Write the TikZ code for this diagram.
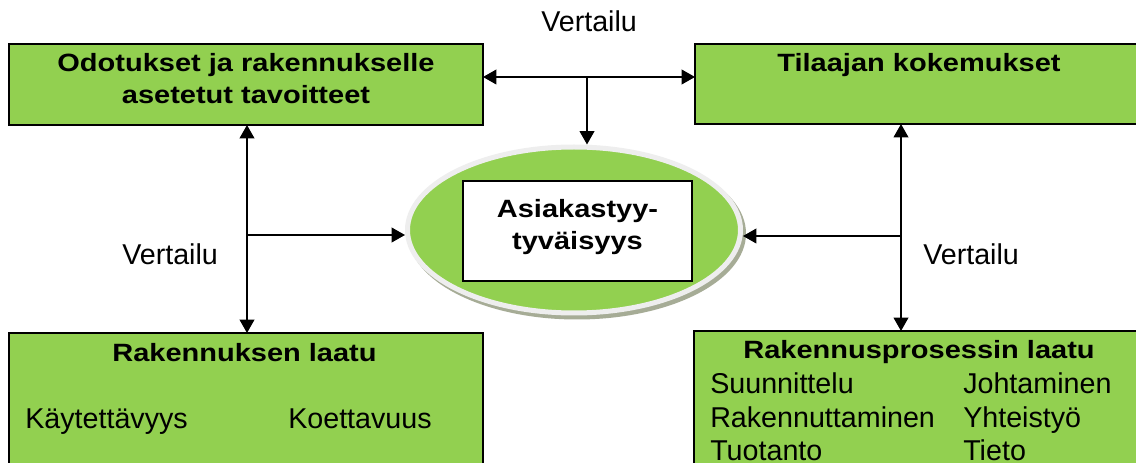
\documentclass[tikz,border=0pt]{standalone}
\usepackage{fontspec}
\setmainfont{Liberation Sans}
\newfontfamily\tfont{Liberation Sans}[FakeStretch=1.16]
\usetikzlibrary{arrows.meta,shapes.geometric}
\definecolor{boxgreen}{HTML}{92D050}
\definecolor{ringgray}{HTML}{EEEEEE}
\definecolor{shadowc}{RGB}{166,172,150}
\tikzset{
  greenbox/.style={draw=black, line width=1.7pt, fill=boxgreen, rectangle, inner sep=0pt, outer sep=0pt},
  whitebox/.style={draw=black, line width=1.5pt, fill=white, rectangle, inner sep=0pt, outer sep=0pt},
  ttext/.style={font=\tfont\bfseries\fontsize{18.75}{22}\selectfont, inner sep=0pt, anchor=base},
  rtext/.style={font=\fontsize{21.5}{25}\selectfont, inner sep=0pt, anchor=base west},
  arr/.style={line width=1.25pt, draw=black, arrows={-Triangle[length=10pt,width=11pt]}},
  darr/.style={line width=1.25pt, draw=black, arrows={Triangle[length=10pt,width=11pt]-Triangle[length=10pt,width=11pt]}}
}
\begin{document}
\begin{tikzpicture}[x=0.75pt,y=-0.75pt]
\useasboundingbox (0,0) rectangle (1136,463);
\clip (0,0) rectangle (1136,463);
\fill[white] (0,0) rectangle (1136,463);
% boxes
\node[greenbox, minimum width=355.5pt, minimum height=60.75pt] (tl) at (246,84.5) {};
\node[greenbox, minimum width=348.75pt, minimum height=60pt] (tr) at (927.5,84) {};
\node[greenbox, minimum width=355.5pt, minimum height=110.25pt] (bl) at (246,406.5) {};
\node[greenbox, minimum width=349.5pt, minimum height=111.75pt] (br) at (927,405.5) {};
% ellipse with shadow
\fill[shadowc] (577,233.5) ellipse [x radius=169, y radius=86];
\node[ellipse, draw=ringgray, line width=3.75pt, fill=boxgreen, minimum width=249.75pt, minimum height=124.5pt, inner sep=0pt] (ell) at (574,230) {};
\node[whitebox, minimum width=171.75pt, minimum height=75pt] (inner) at (577.5,231) {};
% texts
\node[ttext] (t1a) at (246,72) {Odotukset ja rakennukselle};
\node[ttext] (t1b) at (246,104) {asetetut tavoitteet};
\node[ttext] (t2) at (919,72) {Tilaajan kokemukset};
\node[ttext] (t3) at (244.5,362) {Rakennuksen laatu};
\node[ttext] (t4) at (919,359) {Rakennusprosessin laatu};
\node[ttext] (e1) at (577.5,218) {Asiakastyy-};
\node[ttext] (e2) at (577.5,250) {tyväisyys};
\node[rtext] (k1) at (25,429) {Käytettävyys};
\node[rtext] (k2) at (288,429) {Koettavuus};
\node[rtext] (p1) at (710,393) {Suunnittelu};
\node[rtext] (p2) at (963,393) {Johtaminen};
\node[rtext] (p3) at (710,427) {Rakennuttaminen};
\node[rtext] (p4) at (963,427) {Yhteistyö};
\node[rtext] (p5) at (710,460) {Tuotanto};
\node[rtext] (p6) at (963,460) {Tieto};
\node[rtext] (v1) at (541,32) {Vertailu};
\node[rtext] (v2) at (122,265) {Vertailu};
\node[rtext] (v3) at (923,265) {Vertailu};
% connectors
\coordinate (ty) at (0,77);
\coordinate (jt) at (587,77);
\coordinate (lx) at (247,235);
\coordinate (rx) at (901,236);
\draw[darr] (tl.east |- ty) -- (tr.west |- ty);
\draw[arr] (jt) -- (jt |- ell.north);
\draw[darr] (tl.south -| lx) -- (bl.north -| lx);
\draw[arr] (lx) -- (lx -| ell.west);
\draw[darr] (tr.south -| rx) -- (br.north -| rx);
\draw[arr] (rx) -- (rx -| ell.east);
\end{tikzpicture}
\end{document}
